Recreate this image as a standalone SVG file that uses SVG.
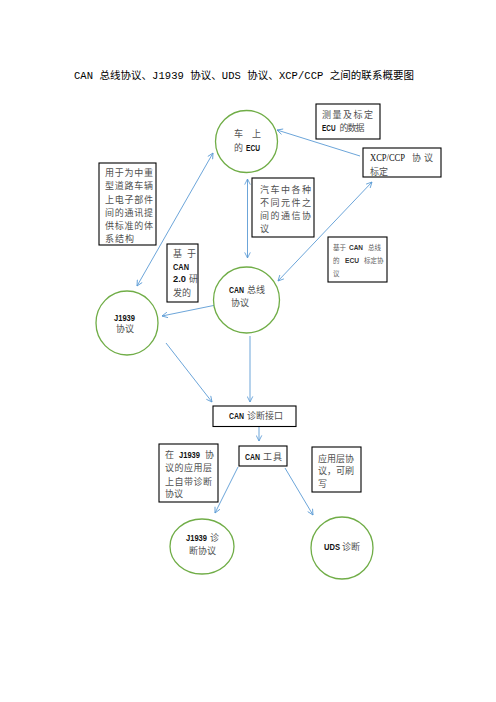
<svg xmlns="http://www.w3.org/2000/svg" width="496" height="702" viewBox="0 0 496 702">
<defs>
<style>
.box{fill:#fff;stroke:#000;stroke-width:1.1}
.circ{fill:#fff;stroke:#70AD47;stroke-width:1.3}
.conn{stroke:#5B9BD5;stroke-width:0.9;fill:none}
.zh{font-family:"Noto Sans CJK SC",sans-serif;font-size:9px;fill:#505050}
.la{font-family:"Liberation Sans","Noto Sans CJK SC",sans-serif;font-size:8.5px;font-weight:bold;fill:#111}
.sm{font-family:"Noto Sans CJK SC",sans-serif;font-size:6.5px;fill:#606060}
.sml{font-family:"Liberation Sans",sans-serif;font-size:6.5px;font-weight:bold;fill:#333}
.title{font-family:"Liberation Mono","Noto Sans CJK SC",monospace;font-size:10.5px;fill:#000}
</style>
<marker id="ah" viewBox="0 0 10 10" refX="9" refY="5" markerWidth="7" markerHeight="7" markerUnits="userSpaceOnUse" orient="auto-start-reverse">
<path d="M1,1 L9,5 L1,9" fill="none" stroke="#5B9BD5" stroke-width="1.2"/>
</marker>
</defs>
<rect width="496" height="702" fill="#fff"/>
<text class="title" x="74" y="79" textLength="340" lengthAdjust="spacing">CAN 总线协议、J1939 协议、UDS 协议、XCP/CCP 之间的联系概要图</text>

<g id="connectors">
<line class="conn" x1="137" y1="286" x2="213" y2="153" marker-start="url(#ah)" marker-end="url(#ah)"/>
<line class="conn" x1="247.5" y1="179" x2="247.5" y2="258" marker-start="url(#ah)" marker-end="url(#ah)"/>
<line class="conn" x1="360" y1="156" x2="277" y2="130" marker-end="url(#ah)"/>
<line class="conn" x1="372" y1="182" x2="278" y2="281" marker-start="url(#ah)" marker-end="url(#ah)"/>
<line class="conn" x1="216" y1="305" x2="162" y2="316" marker-end="url(#ah)"/>
<line class="conn" x1="166" y1="343" x2="212" y2="402" marker-end="url(#ah)"/>
<line class="conn" x1="250" y1="336" x2="250" y2="402" marker-end="url(#ah)"/>
<line class="conn" x1="259" y1="427" x2="259" y2="441" marker-end="url(#ah)"/>
<line class="conn" x1="238" y1="467" x2="215" y2="513" marker-end="url(#ah)"/>
<line class="conn" x1="285" y1="468" x2="313" y2="515" marker-end="url(#ah)"/>
</g>

<g id="node-ecu">
<circle class="circ" cx="246.5" cy="141.5" r="31"/>
<text class="zh" x="234" y="136.5">车</text>
<text class="zh" x="252" y="136.5">上</text>
<text class="zh" x="234" y="150.5">的</text>
<text class="la" x="246" y="150.5" textLength="14" lengthAdjust="spacingAndGlyphs">ECU</text>
</g>

<g id="node-note-j1939">
<rect class="box" x="99" y="163" width="57" height="82"/>
<text class="zh" x="105" y="176" textLength="48">用于为中重</text>
<text class="zh" x="105" y="189.3" textLength="48">型道路车辆</text>
<text class="zh" x="105" y="202.6" textLength="48">上电子部件</text>
<text class="zh" x="105" y="215.9" textLength="48">间的通讯提</text>
<text class="zh" x="105" y="229.2" textLength="48">供标准的体</text>
<text class="zh" x="105" y="242.2" textLength="29">系结构</text>
</g>

<g id="node-note-can">
<rect class="box" x="252" y="178" width="62" height="59"/>
<text class="zh" x="260" y="192.5" textLength="51">汽车中各种</text>
<text class="zh" x="260" y="205.5" textLength="51">不同元件之</text>
<text class="zh" x="260" y="218.5" textLength="51">间的通信协</text>
<text class="zh" x="260" y="231.5">议</text>
</g>

<g id="node-note-measure">
<rect class="box" x="316" y="104" width="64" height="35"/>
<text class="zh" x="322" y="117.5" textLength="51">测量及标定</text>
<text class="la" x="322" y="130.5" textLength="13.5" lengthAdjust="spacingAndGlyphs">ECU</text>
<text class="zh" x="339.5" y="130.5" textLength="25">的数据</text>
</g>

<g id="node-xcp">
<rect class="box" x="363" y="148" width="78" height="29"/>
<text x="370" y="161" font-family="Liberation Serif,serif" font-size="10.5" fill="#111" textLength="35" lengthAdjust="spacingAndGlyphs">XCP/CCP</text>
<text class="zh" x="412" y="161" font-size="10.5">协</text>
<text class="zh" x="424" y="161" font-size="10.5">议</text>
<text class="zh" x="370" y="175" font-size="10.5">标定</text>
</g>

<g id="node-note-xcp">
<rect class="box" x="328" y="237" width="59" height="45"/>
<text class="sm" x="333" y="249.5">基于</text>
<text class="sml" x="349" y="249.5" textLength="14" lengthAdjust="spacingAndGlyphs">CAN</text>
<text class="sm" x="368" y="249.5">总线</text>
<text class="sm" x="333" y="262.5">的</text>
<text class="sml" x="345" y="262.5" textLength="14" lengthAdjust="spacingAndGlyphs">ECU</text>
<text class="sm" x="364" y="262.5">标定协</text>
<text class="sm" x="333" y="275.5">议</text>
</g>

<g id="node-note-can20">
<rect class="box" x="167" y="244" width="31" height="58"/>
<text class="zh" x="173" y="256.5">基</text>
<text class="zh" x="187" y="256.5">于</text>
<text class="la" x="173" y="269.5" textLength="16" lengthAdjust="spacingAndGlyphs">CAN</text>
<text class="la" x="173" y="282" textLength="13" lengthAdjust="spacingAndGlyphs">2.0</text>
<text class="zh" x="189" y="282">研</text>
<text class="zh" x="173" y="295.5">发的</text>
</g>

<g id="node-can">
<circle class="circ" cx="246.5" cy="300" r="33"/>
<text class="la" x="229" y="292.5" textLength="15" lengthAdjust="spacingAndGlyphs">CAN</text>
<text class="zh" x="247" y="292.5">总线</text>
<text class="zh" x="231" y="305.5">协议</text>
</g>

<g id="node-j1939">
<ellipse class="circ" cx="127" cy="323" rx="31" ry="32"/>
<text class="la" x="114" y="320.5" textLength="21" lengthAdjust="spacingAndGlyphs">J1939</text>
<text class="zh" x="116" y="332">协议</text>
</g>

<g id="node-diag-if">
<rect class="box" x="213" y="406" width="83" height="20.5"/>
<text class="la" x="229" y="419" textLength="15" lengthAdjust="spacingAndGlyphs">CAN</text>
<text class="zh" x="247" y="419" textLength="36">诊断接口</text>
</g>

<g id="node-tool">
<rect class="box" x="239" y="446" width="48" height="20"/>
<text class="la" x="245" y="459.5" textLength="15" lengthAdjust="spacingAndGlyphs">CAN</text>
<text class="zh" x="263" y="459.5" textLength="19">工具</text>
</g>

<g id="node-note-j1939diag">
<rect class="box" x="159" y="444" width="59" height="58"/>
<text class="zh" x="165" y="457.5">在</text>
<text class="la" x="179" y="457.5" textLength="21" lengthAdjust="spacingAndGlyphs">J1939</text>
<text class="zh" x="205" y="457.5">协</text>
<text class="zh" x="165" y="471" textLength="47">议的应用层</text>
<text class="zh" x="165" y="484.5" textLength="47">上自带诊断</text>
<text class="zh" x="165" y="497">协议</text>
</g>

<g id="node-note-uds">
<rect class="box" x="312" y="447" width="49" height="45"/>
<text class="zh" x="318" y="461.5" textLength="36">应用层协</text>
<text class="zh" x="318" y="474" textLength="36">议，可刷</text>
<text class="zh" x="318" y="487">写</text>
</g>

<g id="node-j1939diag">
<ellipse class="circ" cx="202" cy="546.5" rx="32" ry="27.5"/>
<text class="la" x="186" y="540.5" textLength="21" lengthAdjust="spacingAndGlyphs">J1939</text>
<text class="zh" x="210" y="540.5">诊</text>
<text class="zh" x="189" y="553.5" textLength="27">断协议</text>
</g>

<g id="node-uds">
<circle class="circ" cx="342" cy="548" r="31"/>
<text class="la" x="324" y="550" textLength="16" lengthAdjust="spacingAndGlyphs">UDS</text>
<text class="zh" x="342" y="550">诊断</text>
</g>
</svg>
